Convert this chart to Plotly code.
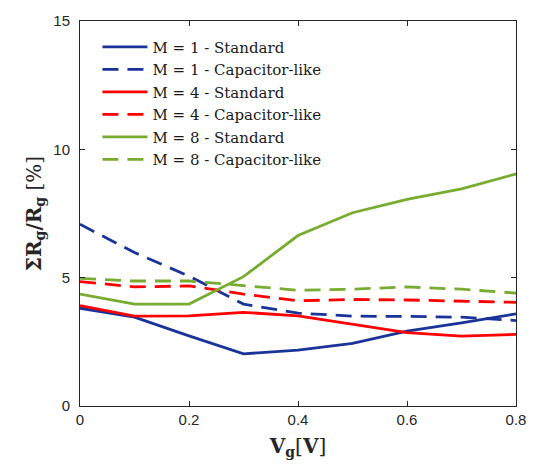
import plotly.graph_objects as go

vg = [0, 0.1, 0.2, 0.3, 0.4, 0.5, 0.6, 0.7, 0.8]

m1_standard = [3.81, 3.46, 2.73, 2.03, 2.18, 2.44, 2.92, 3.24, 3.59]
m1_caplike = [7.08, 5.98, 5.06, 3.97, 3.62, 3.50, 3.49, 3.46, 3.33]
m4_standard = [3.91, 3.50, 3.51, 3.65, 3.51, 3.18, 2.86, 2.72, 2.79]
m4_caplike = [4.85, 4.64, 4.68, 4.36, 4.10, 4.15, 4.13, 4.09, 4.04]
m8_standard = [4.36, 3.97, 3.97, 5.04, 6.64, 7.53, 8.05, 8.46, 9.04]
m8_caplike = [4.97, 4.87, 4.87, 4.68, 4.51, 4.55, 4.64, 4.55, 4.40]

names = ["M = 1 - Standard", "M = 1 - Capacitor-like",
         "M = 4 - Standard", "M = 4 - Capacitor-like",
         "M = 8 - Standard", "M = 8 - Capacitor-like"]
series = [m1_standard, m1_caplike, m4_standard, m4_caplike, m8_standard, m8_caplike]
colors = ["#1a3399", "#1a3399", "#ff0000", "#ff0000", "#77ac30", "#77ac30"]
dashes = ["solid", "16px,9px", "solid", "16px,9px", "solid", "16px,9px"]

SERIF = "DejaVu Serif"
SANS = "Liberation Sans"

fig = go.Figure()
for name, ys, c, d in zip(names, series, colors, dashes):
    fig.add_trace(go.Scatter(x=vg, y=ys, mode="lines", name=name,
                             line=dict(color=c, width=2.8, dash=d)))

axis_common = dict(showline=True, linecolor="#262626", linewidth=1, mirror="ticks",
                   ticks="inside", ticklen=5, tickcolor="#262626", tickwidth=1,
                   showgrid=False, zeroline=False,
                   tickfont=dict(family=SANS, size=15, color="#262626"))

fig.update_layout(
    width=538, height=465,
    margin=dict(l=80, r=12, t=15, b=58),
    plot_bgcolor="white", paper_bgcolor="white",
    font=dict(family=SERIF, size=15, color="#000000"),
    showlegend=True,
    legend=dict(x=0.04, y=0.975, xanchor="left", yanchor="top",
                bgcolor="rgba(255,255,255,0)", borderwidth=0, itemwidth=45,
                tracegroupgap=0,
                font=dict(family=SERIF, size=15, color="#1a1a1a")),
    xaxis=dict(range=[0, 0.8], tickvals=[0, 0.2, 0.4, 0.6, 0.8],
               ticktext=["0", "0.2", "0.4", "0.6", "0.8"],
               title=dict(text="<b>V<sub>g</sub></b>[<b>V</b>]", standoff=11,
                          font=dict(family=SERIF, size=20, color="#262626")),
               **axis_common),
    yaxis=dict(range=[0, 15], tickvals=[0, 5, 10, 15],
               ticktext=["0", "5", "10", "15"],
               title=dict(text="<b>ΣR<sub>g</sub>/R<sub>g</sub></b> [%]", standoff=6,
                          font=dict(family=SERIF, size=20, color="#262626")),
               ticklabelstandoff=6,
               **axis_common),
)

fig.write_html("out.html")
